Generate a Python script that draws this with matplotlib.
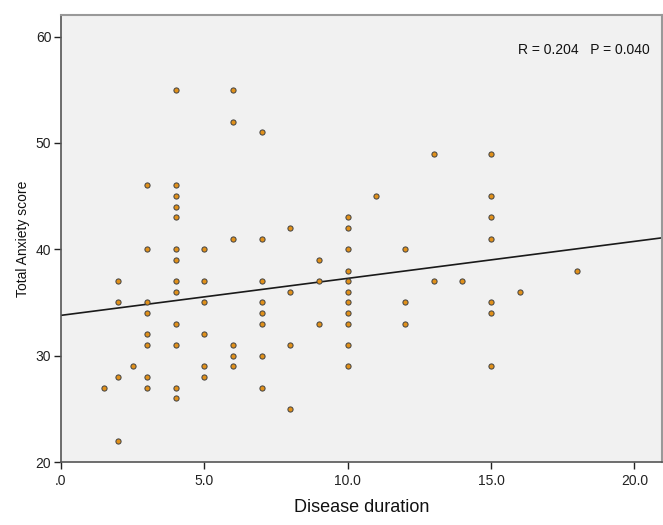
import numpy as np
import matplotlib
matplotlib.use("Agg")
import matplotlib.pyplot as plt

plt.rcParams['font.family'] = ['Liberation Sans Narrow', 'Liberation Sans', 'DejaVu Sans']

# Disease duration (years) and Total Anxiety score
duration = [1.5,
            2, 2, 2, 2,
            2.5,
            3, 3, 3, 3, 3, 3, 3, 3,
            4, 4, 4, 4, 4, 4, 4, 4, 4, 4, 4, 4, 4,
            5, 5, 5, 5, 5, 5,
            6, 6, 6, 6, 6, 6,
            7, 7, 7, 7, 7, 7, 7, 7,
            8, 8, 8, 8,
            9, 9, 9,
            10, 10, 10, 10, 10, 10, 10, 10, 10, 10, 10,
            11,
            12, 12, 12,
            13, 13,
            14,
            15, 15, 15, 15, 15, 15, 15,
            16,
            18]
anxiety = [27,
           37, 35, 28, 22,
           29,
           46, 40, 35, 34, 32, 31, 28, 27,
           55, 46, 45, 44, 43, 40, 39, 37, 36, 33, 31, 27, 26,
           40, 37, 35, 32, 29, 28,
           55, 52, 41, 31, 30, 29,
           51, 41, 37, 35, 34, 33, 30, 27,
           42, 36, 31, 25,
           39, 37, 33,
           43, 42, 40, 38, 37, 36, 35, 34, 33, 31, 29,
           45,
           40, 35, 33,
           49, 37,
           37,
           49, 45, 43, 41, 35, 34, 29,
           36,
           38]

x_ticks = [0, 5, 10, 15, 20]
x_ticklabels = ['.0', '5.0', '10.0', '15.0', '20.0']
y_ticks = [20, 30, 40, 50, 60]
y_ticklabels = ['20', '30', '40', '50', '60']
stats_text = 'R = 0.204   P = 0.040'

fig = plt.figure(figsize=(6.63, 5.25), dpi=100)
ax = fig.add_axes([0.092, 0.12, 0.906, 0.851])
ax.set_facecolor('#f1f1f1')

x = np.array(duration, dtype=float)
y = np.array(anxiety, dtype=float)
slope, intercept = np.polyfit(x, y, 1)
xl = np.array([0, 21.0])
ax.plot(xl, intercept + slope * xl, color='#1a1a1a', lw=1.2, zorder=2)

ax.scatter(x, y, s=14, facecolor='#e0901a', edgecolor='#404040', linewidth=0.7, zorder=3)

ax.set_xlim(0, 20.95)
ax.set_ylim(20, 62)
ax.set_xticks(x_ticks)
ax.set_xticklabels(x_ticklabels)
ax.set_yticks(y_ticks)
ax.set_yticklabels(y_ticklabels)
ax.tick_params(axis='both', direction='out', length=5, width=1, colors='#222222', labelsize=10)
ax.tick_params(axis='y', pad=2)

for side in ['left', 'bottom']:
    ax.spines[side].set_color('#555555')
    ax.spines[side].set_linewidth(1.2)
for side in ['top', 'right']:
    ax.spines[side].set_color('#999999')
    ax.spines[side].set_linewidth(1.5)

ax.text(0.98, 0.922, stats_text, transform=ax.transAxes, ha='right', va='center',
        fontsize=10, color='#111111')

ax.set_xlabel('Disease duration', fontsize=13, color='#111111', labelpad=8)
ax.set_ylabel('Total Anxiety score', fontsize=10, color='#111111', labelpad=4)

fig.savefig('out.png', dpi=100)
